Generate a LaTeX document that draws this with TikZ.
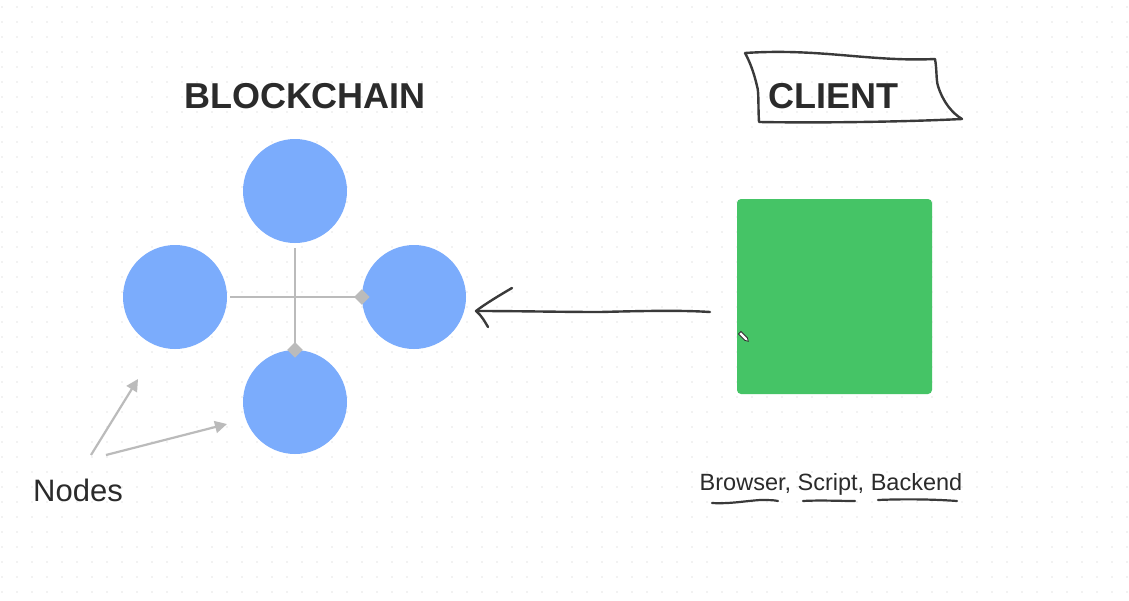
\documentclass[tikz,border=0pt]{standalone}
\usepackage{fontspec}
\setmainfont{Liberation Sans}
\usetikzlibrary{arrows.meta}
\definecolor{nodeblue}{HTML}{7BACFC}
\definecolor{clientgreen}{HTML}{45C466}
\definecolor{ink}{HTML}{2B2B2B}
\definecolor{pen}{HTML}{3A3A3A}
\definecolor{linkgray}{HTML}{BBBBBB}
\definecolor{dotgray}{HTML}{E6E6E6}
\tikzset{
  bcnode/.style={circle, fill=nodeblue, minimum size=104pt, inner sep=0pt},
  conn/.style={draw=linkgray, line width=2pt},
  diam/.style={fill=linkgray, minimum size=11pt, inner sep=0pt, rotate=45},
  hint/.style={draw=linkgray, line width=2.2pt, -{Triangle[length=12pt,width=12pt]}},
  hand/.style={draw=pen, line width=2.4pt, line cap=round, line join=round},
  title/.style={font=\fontsize{36}{40}\selectfont\bfseries, text=ink, inner sep=0pt},
  label/.style={font=\fontsize{23.5}{26}\selectfont, text=ink, inner sep=0pt},
  biglabel/.style={font=\fontsize{31}{34}\selectfont, text=ink, inner sep=0pt},
}
\begin{document}
\begin{tikzpicture}[x=1pt,y=-1pt]
\useasboundingbox (0,0) rectangle (1129,600);
\fill[white] (0,0) rectangle (1129,600);
% dot grid
\foreach \i in {0,...,75} {
  \foreach \j in {0,...,39} {
    \fill[dotgray] (2+15*\i, 7+15*\j) circle (0.9pt);
  }
}
% titles
\node[title] (bctitle) at (305,96) {BLOCKCHAIN};
% client flag
\draw[hand] (745,53) .. controls (820,48) and (870,62) .. (935,59)
  .. controls (937,70) and (936,80) .. (938,86)
  .. controls (943,102) and (952,113) .. (962,119)
  .. controls (900,122) and (820,123) .. (759,122)
  .. controls (758,105) and (759,92) .. (757,86)
  .. controls (754,73) and (750,62) .. (745,53);
\node[title] (client) at (833,96) {CLIENT};
% blockchain nodes
\node[bcnode] (ntop) at (295,191) {};
\node[bcnode] (nleft) at (175,297) {};
\node[bcnode] (nright) at (414,297) {};
\node[bcnode] (nbottom) at (295,402) {};
\draw[conn] ([xshift=3pt]nleft.east) -- (nright.west);
\draw[conn] ([yshift=-5pt]ntop.south) -- (nbottom.north);
\node[diam] (d1) at (nright.west) {};
\node[diam] (d2) at (nbottom.north) {};
% Nodes label and hints
\node[biglabel, anchor=west] (nodeslabel) at (33,490) {Nodes};
\coordinate (h1s) at (91,455);
\coordinate (h1e) at (138,379);
\coordinate (h2s) at (106,455);
\coordinate (h2e) at (227,424);
\draw[hint] (h1s) -- (h1e);
\draw[hint] (h2s) -- (h2e);
% client box
\node[fill=clientgreen, rounded corners=4pt, minimum width=195pt, minimum height=195pt, inner sep=0pt] (box) at (834.5,296.5) {};
% pencil cursor
\begin{scope}[shift={(744,337)}, rotate=-45]
  \filldraw[fill=white, draw=ink, line width=0.8pt] (-6,-1.8) -- (3,-1.8) -- (6,0) -- (3,1.8) -- (-6,1.8) -- cycle;
\end{scope}
% hand-drawn arrow
\coordinate (as) at (710,312);
\coordinate (ae) at (476,311);
\coordinate (ah1) at (512,288);
\coordinate (ah2) at (488,327);
\draw[hand] (as) .. controls (680,310) and (640,311) .. (600,312) .. controls (560,312) and (520,311) .. (ae);
\draw[hand] (ah1) .. controls (500,295) and (485,304) .. (ae) .. controls (482,316) and (485,322) .. (ah2);
% client label
\node[label] (clientlabel) at (831,484) {Browser, Script, Backend};
\draw[hand, line width=2.2pt] (712,503) .. controls (730,504) and (745,501) .. (760,500) .. controls (768,500) and (774,500) .. (778,501);
\draw[hand, line width=2.2pt] (803,501) .. controls (820,500) and (840,501) .. (855,501);
\draw[hand, line width=2.2pt] (878,500) .. controls (900,499) and (930,499) .. (957,501);
\end{tikzpicture}
\end{document}
